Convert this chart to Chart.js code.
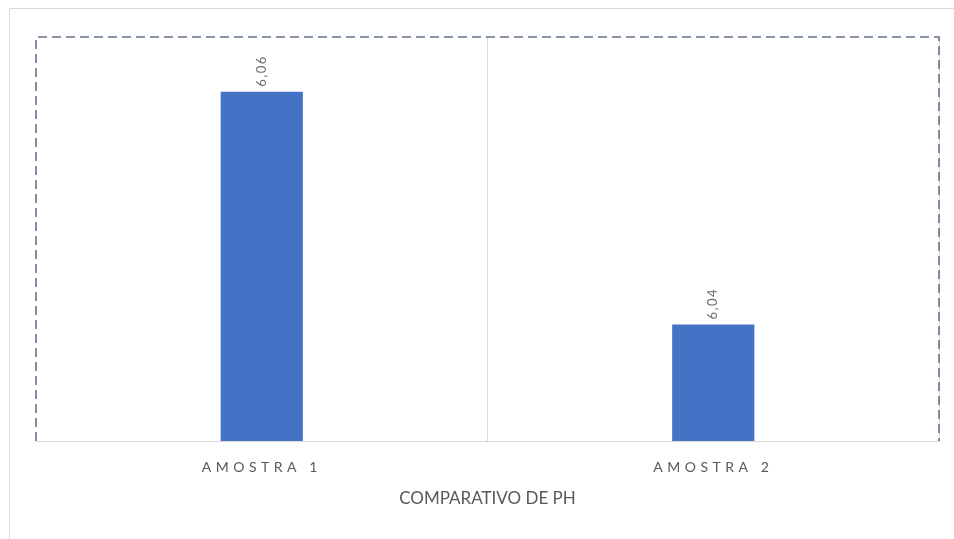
<!DOCTYPE html>
<html>
<head>
<meta charset="utf-8">
<script src="https://cdn.jsdelivr.net/npm/chart.js@4/dist/chart.umd.min.js"></script>
<style>
  html, body { margin: 0; padding: 0; background: #ffffff; }
  #wrap { width: 954px; height: 539px; position: relative; }
</style>
</head>
<body>
<div id="wrap"><canvas id="c" width="954" height="539"></canvas></div>
<script>
const categories = ["AMOSTRA 1", "AMOSTRA 2"];
const phValues = [6.06, 6.04];
const valueLabels = ["6,06", "6,04"];
const axisTitle = "COMPARATIVO DE PH";

const framePlugin = {
  id: 'frame',
  beforeDraw(chart) {
    const ctx = chart.ctx;
    ctx.save();
    ctx.strokeStyle = '#d9d9d9';
    ctx.lineWidth = 1;
    ctx.beginPath();
    ctx.moveTo(9.5, chart.height);
    ctx.lineTo(9.5, 8.5);
    ctx.lineTo(chart.width, 8.5);
    ctx.stroke();
    ctx.restore();
    const s = chart.scales.x;
    if (s && !s._spacedWrap) {
      const orig = s.drawLabels.bind(s);
      s.drawLabels = function (area) {
        ctx.save();
        ctx.letterSpacing = '4.5px';
        orig(area);
        ctx.restore();
      };
      s._spacedWrap = true;
    }
  },
  afterDraw(chart) {
    const ctx = chart.ctx;
    const a = chart.chartArea;
    ctx.save();
    ctx.strokeStyle = '#62728c';
    ctx.lineWidth = 1.6;
    ctx.setLineDash([9, 5]);
    ctx.beginPath();
    ctx.moveTo(a.left, a.bottom);
    ctx.lineTo(a.left, a.top);
    ctx.lineTo(a.right, a.top);
    ctx.lineTo(a.right, a.bottom);
    ctx.stroke();
    ctx.restore();
    const meta = chart.getDatasetMeta(0);
    ctx.save();
    ctx.fillStyle = '#6b6b6b';
    ctx.font = '13px Lato, "Open Sans", sans-serif';
    ctx.letterSpacing = '1.5px';
    ctx.textBaseline = 'middle';
    ctx.textAlign = 'left';
    meta.data.forEach((bar, i) => {
      ctx.save();
      ctx.translate(bar.x, bar.y - 5);
      ctx.rotate(-Math.PI / 2);
      ctx.fillText(valueLabels[i], 0, 0);
      ctx.restore();
    });
    ctx.restore();
  }
};

new Chart(document.getElementById('c'), {
  type: 'bar',
  data: {
    labels: categories,
    datasets: [{
      data: phValues,
      backgroundColor: '#4472c4',
      borderWidth: 0,
      categoryPercentage: 1.0,
      barPercentage: 0.182
    }]
  },
  options: {
    responsive: false,
    animation: false,
    layout: { padding: { left: 36, right: 15, top: 37, bottom: 29 } },
    plugins: {
      legend: { display: false },
      tooltip: { enabled: false },
      title: { display: false }
    },
    scales: {
      y: {
        display: false,
        min: 6.03,
        max: 6.0647
      },
      x: {
        afterFit: (scale) => { scale.height = 69; },
        grid: {
          offset: true,
          drawTicks: false,
          color: (ctx) => (ctx.index === 0 || ctx.index === categories.length) ? 'rgba(0,0,0,0)' : '#d9d9d9',
          lineWidth: 1
        },
        border: { display: true, color: '#d9d9d9', width: 1 },
        ticks: {
          padding: 18,
          color: '#595959',
          font: { size: 14, family: 'Lato, "Open Sans", sans-serif' },
          maxRotation: 0,
          autoSkip: false
        },
        title: {
          display: true,
          text: axisTitle,
          color: '#595959',
          font: { size: 17, family: 'Lato, "Open Sans", sans-serif' },
          padding: { top: 17, bottom: 1 }
        }
      }
    }
  },
  plugins: [framePlugin]
});
</script>
</body>
</html>
